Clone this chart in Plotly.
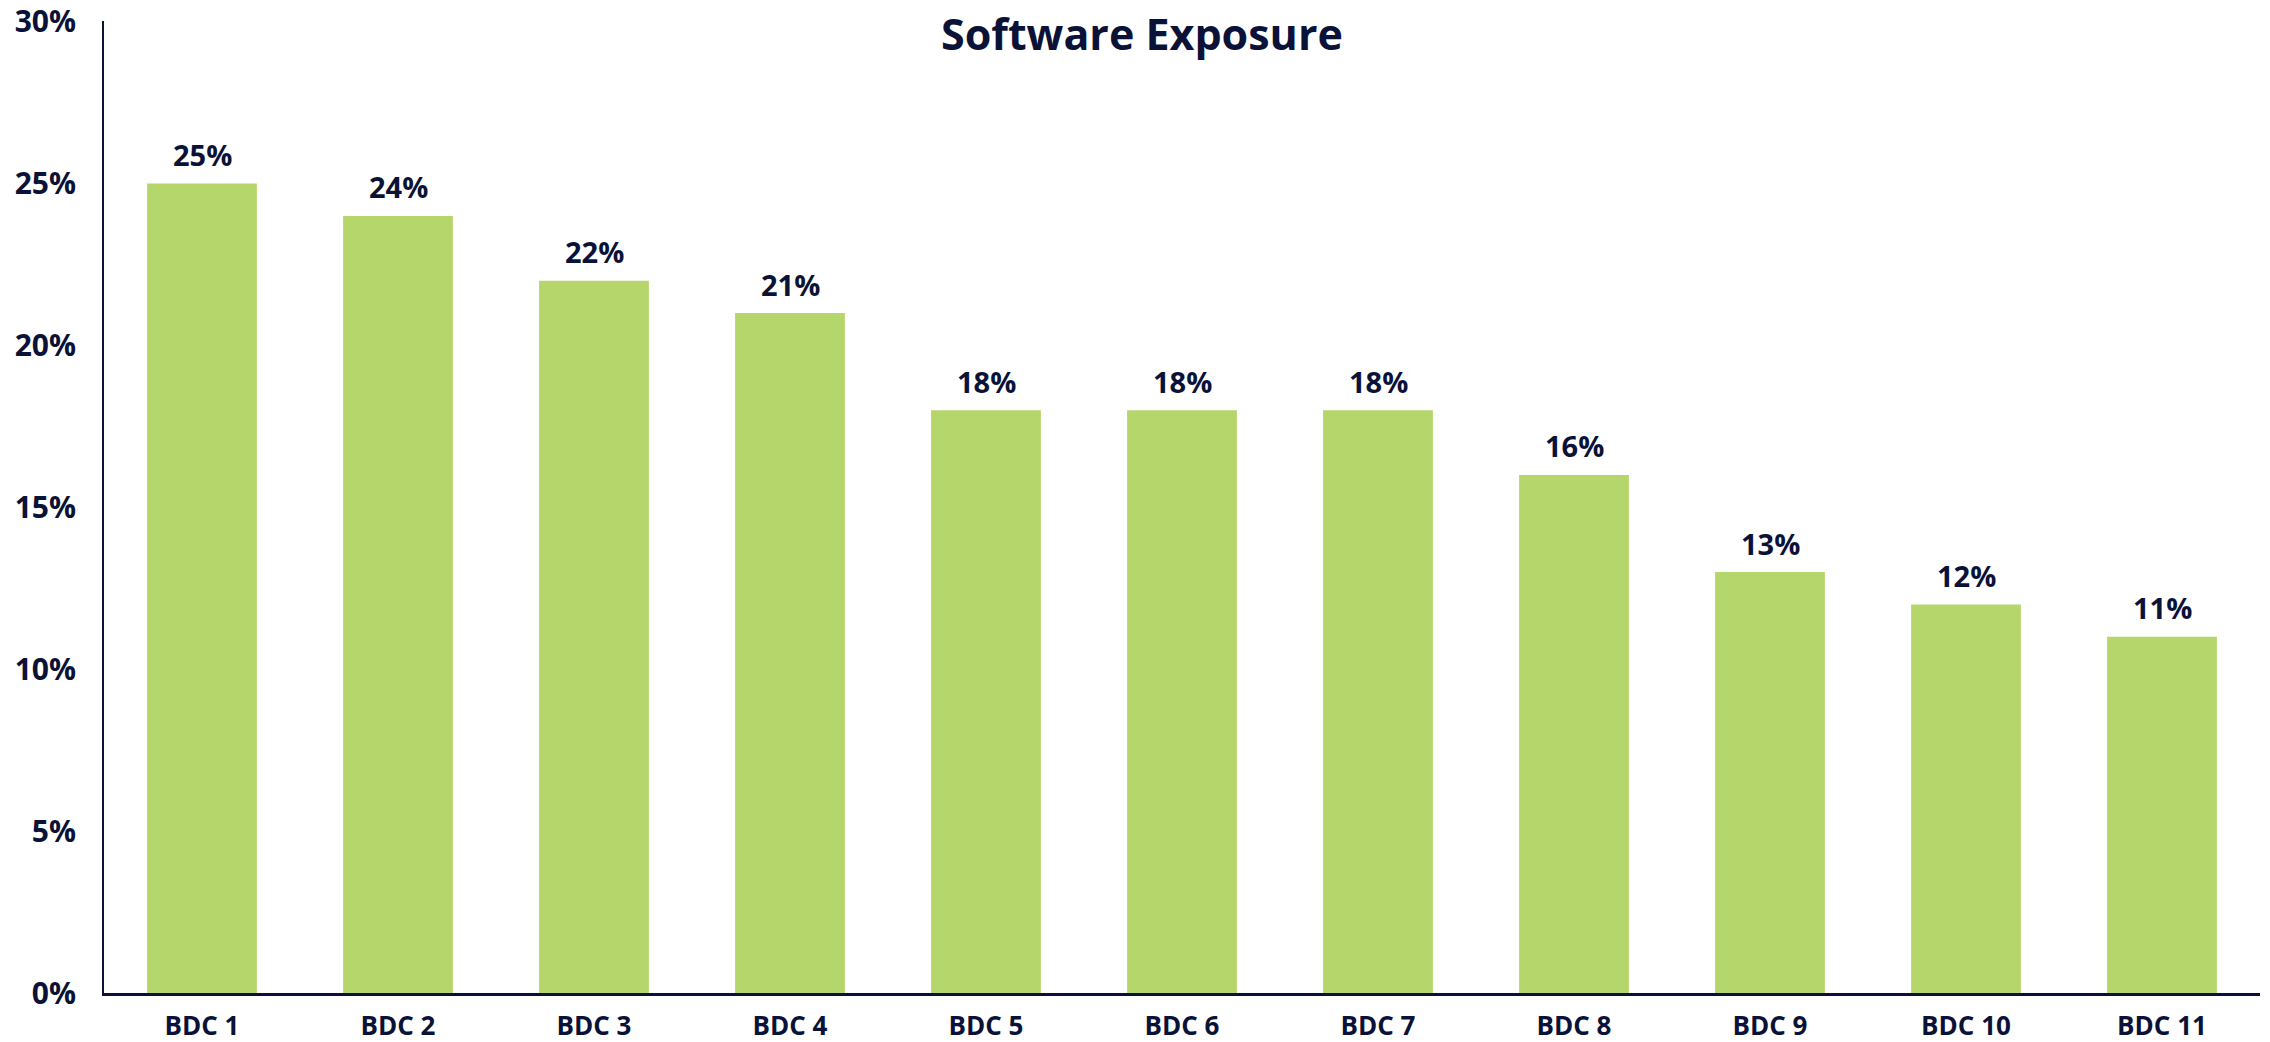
import plotly.graph_objects as go

# Chart data
categories = ["BDC 1", "BDC 2", "BDC 3", "BDC 4", "BDC 5", "BDC 6",
              "BDC 7", "BDC 8", "BDC 9", "BDC 10", "BDC 11"]
exposure = [25, 24, 22, 21, 18, 18, 18, 16, 13, 12, 11]
y_ticks = [0, 5, 10, 15, 20, 25, 30]
y_tick_labels = [f"{v}%" for v in y_ticks]

NAVY = "#0a1238"
GREEN = "#b5d66a"
FONT = "Open Sans"

fig = go.Figure(
    go.Bar(
        x=categories,
        y=exposure,
        marker=dict(color=GREEN, line=dict(width=0)),
        hoverinfo="x+y",
    )
)

# Value labels floating above each bar
for cat, val in zip(categories, exposure):
    fig.add_annotation(
        x=cat, y=val, xref="x", yref="y",
        text=f"{val}%", showarrow=False,
        yanchor="middle", yshift=29,
        font=dict(family=FONT, size=29, color=NAVY, weight=700),
    )

fig.update_layout(
    width=2270,
    height=1042,
    margin=dict(l=104, r=10, t=21, b=49, autoexpand=False),
    paper_bgcolor="white",
    plot_bgcolor="white",
    bargap=0.44,
    showlegend=False,
    font=dict(family=FONT, color=NAVY, weight=700),
    title=dict(
        text="Software Exposure",
        font=dict(family=FONT, size=43, color=NAVY, weight=700),
        x=0.4814, xref="paper", xanchor="center",
        y=1 - 35 / 1042, yref="container", yanchor="middle",
    ),
)

fig.update_xaxes(
    range=[-0.5, 10.5],
    automargin=False,
    showline=True, linecolor=NAVY, linewidth=3,
    showgrid=False, zeroline=False,
    ticks="", ticklabelstandoff=8,
    tickfont=dict(family=FONT, size=26, color=NAVY, weight=700),
)

fig.update_yaxes(
    range=[0, 30.02],
    automargin=False,
    tickvals=y_ticks, ticktext=y_tick_labels,
    showline=True, linecolor=NAVY, linewidth=2,
    showgrid=False, zeroline=False,
    ticks="", ticklabelstandoff=20,
    tickfont=dict(family=FONT, size=30, color=NAVY, weight=700),
)

fig.write_html("out.html")
